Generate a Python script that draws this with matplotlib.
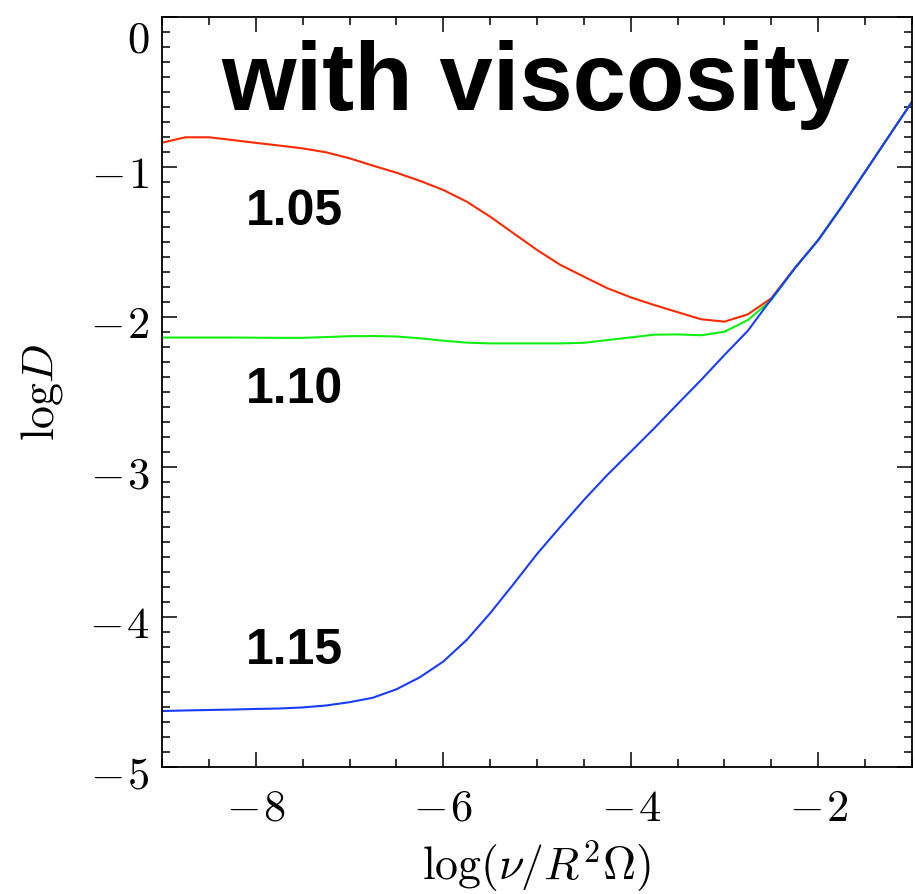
import matplotlib
matplotlib.use("Agg")
import matplotlib.pyplot as plt
from matplotlib.ticker import MultipleLocator, FuncFormatter
from matplotlib.transforms import ScaledTranslation

plt.rcParams['mathtext.fontset'] = 'cm'
plt.rcParams['font.family'] = ['DejaVu Serif']

# log(nu / R^2 Omega), sampled every 0.25
x = [-9.0, -8.75, -8.5, -8.25, -8.0, -7.75, -7.5, -7.25, -7.0, -6.75, -6.5,
     -6.25, -6.0, -5.75, -5.5, -5.25, -5.0, -4.75, -4.5, -4.25, -4.0, -3.75,
     -3.5, -3.25, -3.0, -2.75, -2.5, -2.25, -2.0, -1.75, -1.5, -1.25, -1.0]

logD_105 = [-0.838, -0.802, -0.802, -0.820, -0.839, -0.857, -0.876, -0.902,
            -0.942, -0.991, -1.038, -1.092, -1.153, -1.231, -1.331, -1.442,
            -1.553, -1.653, -1.731, -1.808, -1.869, -1.920, -1.968, -2.015,
            -2.031, -1.982, -1.875, -1.672, -1.487, -1.265, -1.032, -0.798,
            -0.565]

logD_110 = [-2.137, -2.137, -2.137, -2.137, -2.138, -2.139, -2.139, -2.134,
            -2.128, -2.127, -2.130, -2.142, -2.158, -2.171, -2.176, -2.176,
            -2.176, -2.176, -2.172, -2.154, -2.136, -2.118, -2.116, -2.122,
            -2.098, -2.020, -1.887, -1.674, -1.487, -1.265, -1.032, -0.798,
            -0.565]

logD_115 = [-4.627, -4.623, -4.620, -4.617, -4.613, -4.610, -4.603, -4.590,
            -4.568, -4.538, -4.482, -4.402, -4.297, -4.153, -3.975, -3.780,
            -3.580, -3.398, -3.220, -3.053, -2.898, -2.742, -2.580, -2.420,
            -2.253, -2.091, -1.880, -1.676, -1.487, -1.265, -1.032, -0.798,
            -0.565]

labels = ['1.05', '1.10', '1.15']

fig = plt.figure(figsize=(9.15, 8.94), dpi=100)
ax = fig.add_axes([0.17705, 0.14206, 0.81967, 0.83893])

ax.plot(x, logD_105, color='#ff2a00', lw=1.5)
ax.plot(x, logD_110, color='#11ee11', lw=1.5)
ax.plot(x, logD_115, color='#1a3cff', lw=1.5)

ax.set_xlim(-9, -1)
ax.set_ylim(-5, 0)

ax.xaxis.set_major_locator(MultipleLocator(2))
ax.xaxis.set_minor_locator(MultipleLocator(0.5))
ax.yaxis.set_major_locator(MultipleLocator(1))
ax.yaxis.set_minor_locator(MultipleLocator(0.1))


def tick_fmt(v, p):
    v = int(round(v))
    if v < 0:
        return r'$-\hspace{0.07}%d$' % (-v)
    return r'$%d$' % v


ax.xaxis.set_major_formatter(FuncFormatter(tick_fmt))
ax.yaxis.set_major_formatter(FuncFormatter(tick_fmt))

ax.tick_params(which='both', direction='in', top=True, right=True,
               width=1.1, labelsize=32)
ax.tick_params(which='major', length=10.8)
ax.tick_params(which='minor', length=5.8)
ax.tick_params(axis='x', pad=14)
ax.tick_params(axis='y', pad=9)
for s in ax.spines.values():
    s.set_linewidth(1.3)

# IDL-style labels sit a little below their ticks
ylocs = ax.yaxis.get_majorticklocs()
for loc, t in zip(ylocs, ax.yaxis.get_major_ticks(len(ylocs))):
    dy = -18 if abs(loc) < 1e-9 else -4
    t.label1.set_transform(t.label1.get_transform() +
                           ScaledTranslation(0, dy / 100, fig.dpi_scale_trans))

ax.set_xlabel(r'$\log(\nu/R^2\Omega)$', fontsize=33, va='baseline')
ax.xaxis.set_label_coords(0.5, -0.1507)
ax.set_ylabel(r'$\mathrm{log}D$', fontsize=33, va='baseline', ha='center')
ax.yaxis.set_label_coords(-0.1447, 0.5)

ax.text(-5.01, -0.62, 'with viscosity', family='Liberation Sans',
        weight='bold', fontsize=69, ha='center', va='baseline')
for lab, yb in zip(labels, [-1.387, -2.571, -4.315]):
    ax.text(-8.11, yb, lab, family='Liberation Sans', weight='bold',
            fontsize=36, ha='left', va='baseline')

fig.savefig('out.png', dpi=100)
